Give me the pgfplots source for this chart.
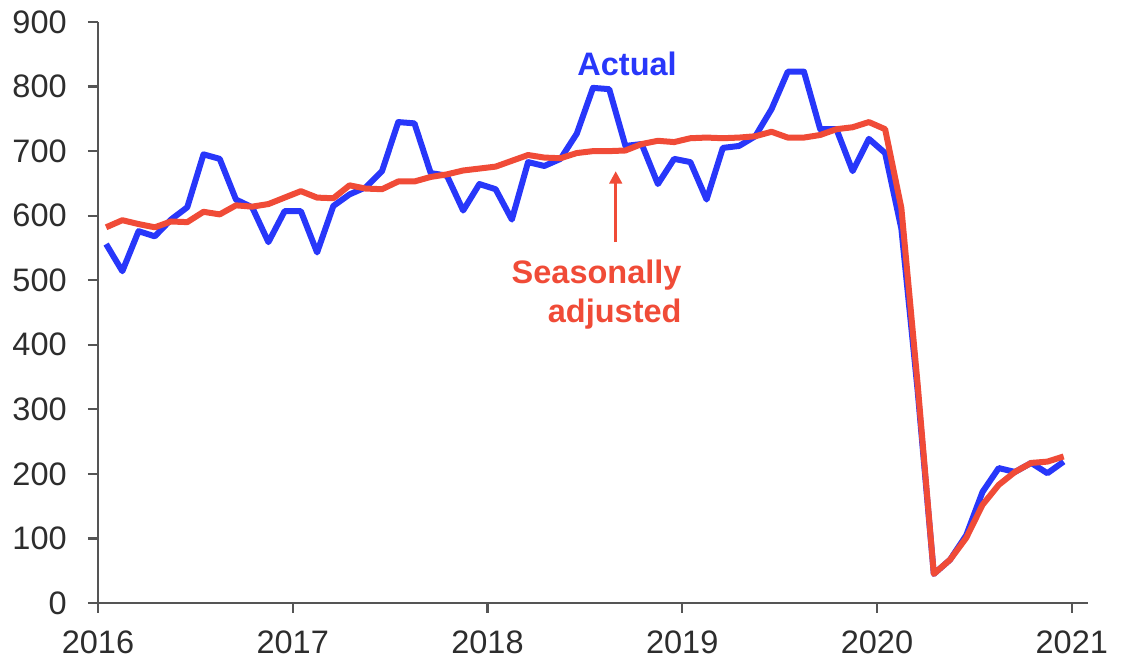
\documentclass[border=0pt]{standalone}
\usepackage{fontspec}
\setmainfont{Liberation Sans}
\usepackage{pgfplots}
\usepackage{pgfplotstable}
\pgfplotsset{compat=1.18}
\usetikzlibrary{arrows.meta}
\definecolor{actblue}{RGB}{40,55,250}
\definecolor{sared}{RGB}{240,75,55}
\definecolor{axgray}{RGB}{85,85,85}
\definecolor{lblgray}{RGB}{45,45,45}

% month index (mid-month, 0 = Jan 2016), actual, seasonally adjusted
\pgfplotstableread{
m     act  sa
0.5   556  582
1.5   514  593
2.5   576  587
3.5   568  582
4.5   594  591
5.5   613  590
6.5   695  606
7.5   688  602
8.5   625  616
9.5   613  614
10.5  559  618
11.5  607  628
12.5  607  638
13.5  543  628
14.5  615  627
15.5  633  647
16.5  644  642
17.5  669  641
18.5  745  653
19.5  743  653
20.5  666  660
21.5  662  664
22.5  608  670
23.5  649  673
24.5  641  676
25.5  594  685
26.5  683  694
27.5  677  690
28.5  688  689
29.5  727  697
30.5  798  700
31.5  796  700
32.5  708  701
33.5  711  711
34.5  649  716
35.5  688  714
36.5  683  720
37.5  625  721
38.5  705  720
39.5  708  721
40.5  723  723
41.5  765  730
42.5  823  721
43.5  823  721
44.5  734  725
45.5  734  734
46.5  669  737
47.5  719  745
48.5  697  734
49.5  580  612
50.5  330  340
51.5  45   45
52.5  67   67
53.5  105  101
54.5  172  152
55.5  209  183
56.5  203  203
57.5  217  217
58.5  201  219
59.5  219  227
}\flows

\begin{document}
\begin{tikzpicture}
\begin{axis}[
    name=main,
    scale only axis,
    width=396pt, height=232.4pt,
    xmin=0, xmax=61,
    ymin=0, ymax=900,
    axis lines=left,
    axis line style={-, axgray, line width=0.9pt},
    xtick={0,12,24,36,48,60},
    xticklabels={2016,2017,2018,2019,2020,2021},
    ytick={0,100,...,900},
    tick align=outside,
    major tick length=4pt,
    tick style={axgray, line width=0.9pt},
    ticklabel style={font=\fontsize{13}{15}\selectfont, text=lblgray},
    /pgf/number format/assume math mode=true,
    yticklabel style={xshift=-5pt},
    xticklabel style={yshift=-3.5pt},
    clip=false,
]
\addplot[actblue, line width=2.4pt, line join=round] table[x=m, y=act] {\flows};
\addplot[sared, line width=2.4pt, line join=round] table[x=m, y=sa] {\flows};

\node[font=\fontsize{13}{15}\selectfont\bfseries, text=actblue] at (axis cs:32.6,835) {Actual};
\node[font=\fontsize{13}{15.5}\selectfont\bfseries, text=sared, align=right, anchor=east]
    at (axis cs:36.5,478) {Seasonally\\adjusted};
\draw[sared, line width=1.2pt, -{Triangle[length=5pt,width=5pt]}]
    (axis cs:31.9,559) -- (axis cs:31.9,669);
\end{axis}
\path (main.south west) ++(-39.2pt,-21.6pt) rectangle ++(450pt,262.8pt);
\end{tikzpicture}
\end{document}
